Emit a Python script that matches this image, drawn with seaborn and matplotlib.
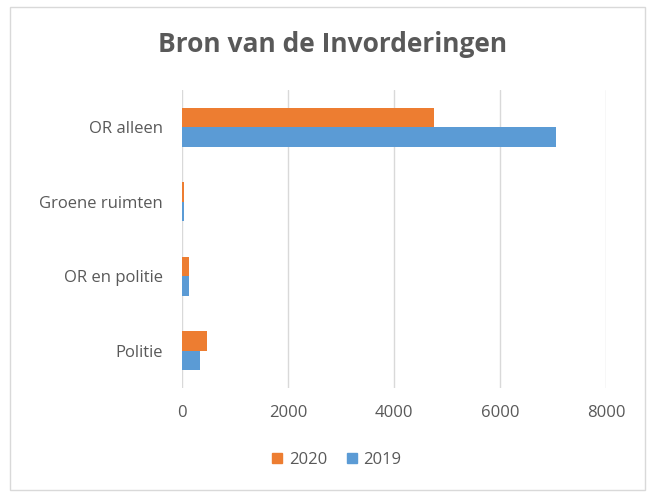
import matplotlib
matplotlib.use("Agg")
import matplotlib.pyplot as plt
import seaborn as sns
import pandas as pd
from matplotlib.patches import Rectangle

categories = ["OR alleen", "Groene ruimten", "OR en politie", "Politie"]
values_2020 = [4760, 45, 140, 465]
values_2019 = [7060, 40, 140, 335]
years = ["2020", "2019"]
xticks = [0, 2000, 4000, 6000, 8000]

df = pd.DataFrame({
    "Categorie": categories * 2,
    "Jaar": [years[0]] * 4 + [years[1]] * 4,
    "Waarde": values_2020 + values_2019,
})

sns.set_theme(style="white")
plt.rcParams["font.family"] = ["Open Sans", "DejaVu Sans"]
text_color = "#595959"

fig = plt.figure(figsize=(6.54, 4.93), dpi=100)
ax = fig.add_axes([182 / 654, 1 - 388 / 493, (606 - 182) / 654, (388 - 90) / 493])

sns.barplot(data=df, y="Categorie", x="Waarde", hue="Jaar", hue_order=years,
            order=categories, orient="h", palette=["#ED7D31", "#5B9BD5"],
            width=0.52, gap=0, ax=ax, legend=False, saturation=1, linewidth=0)

ax.set_xlim(0, 8000)
ax.set_ylim(3.5, -0.5)
ax.set_xticks(xticks)
ax.set_xticklabels([str(t) for t in xticks])
ax.xaxis.grid(True, color="#D9D9D9", linewidth=1)
ax.set_axisbelow(True)
for s in ax.spines.values():
    s.set_visible(False)
ax.tick_params(axis="both", length=0, colors=text_color, labelsize=12)
ax.tick_params(axis="x", pad=12)
ax.tick_params(axis="y", pad=14)
ax.set_xlabel("")
ax.set_ylabel("")

fig.text(0.508, 1 - 45 / 493, "Bron van de Invorderingen", ha="center", va="center",
         fontsize=19, fontweight="bold", color=text_color)

handles = [Rectangle((0, 0), 1, 1, color="#ED7D31"), Rectangle((0, 0), 1, 1, color="#5B9BD5")]
fig.legend(handles, years, loc="center", bbox_to_anchor=(0.515, 1 - 460 / 493), ncol=2,
           frameon=False, handlelength=0.6, handleheight=0.6, handletextpad=0.4,
           columnspacing=1.2, labelcolor=text_color, fontsize=12)

fig.patches.append(Rectangle((10 / 654, 1 - 490 / 493), 635 / 654, 483 / 493,
                             transform=fig.transFigure, fill=False,
                             edgecolor="#D9D9D9", linewidth=1))

fig.savefig("out.png", dpi=100, facecolor="white")
